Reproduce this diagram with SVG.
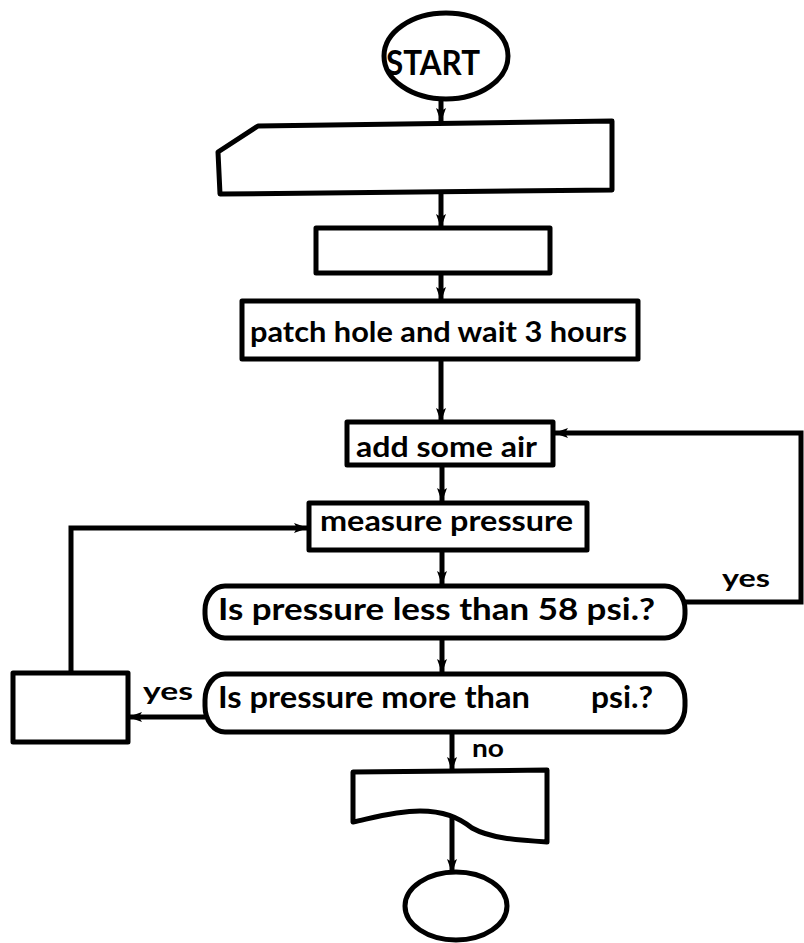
<svg xmlns="http://www.w3.org/2000/svg" width="804" height="943" viewBox="0 0 804 943">
<style>
.s{fill:#fff;stroke:#000;stroke-width:5;stroke-linejoin:round}
.c{fill:none;stroke:#000;stroke-width:5}
.t{font-family:Lato,"Liberation Sans",sans-serif;font-weight:bold;fill:#000}
</style>
<defs>
<marker id="ah" markerUnits="userSpaceOnUse" markerWidth="16" markerHeight="12" refX="14" refY="6" orient="auto">
<path d="M0,1 L14,6 L0,11 L3,6 Z" fill="#000"/>
</marker>
</defs>
<rect width="804" height="943" fill="#fff"/>
<g id="connectors">
<path class="c" d="M441,100 V122" marker-end="url(#ah)"/>
<path class="c" d="M441,192 V228" marker-end="url(#ah)"/>
<path class="c" d="M441,273 V301" marker-end="url(#ah)"/>
<path class="c" d="M441,359 V422" marker-end="url(#ah)"/>
<path class="c" d="M442,465 V502" marker-end="url(#ah)"/>
<path class="c" d="M442,550 V585" marker-end="url(#ah)"/>
<path class="c" d="M442,638 V673" marker-end="url(#ah)"/>
<path class="c" d="M452,732 V771" marker-end="url(#ah)"/>
<path class="c" d="M452,812 V873" marker-end="url(#ah)"/>
<path class="c" d="M685,602 H801 V433 H554" marker-end="url(#ah)"/>
<path class="c" d="M205,717 H128" marker-end="url(#ah)"/>
<path class="c" d="M71,673 V528 H308" marker-end="url(#ah)"/>
<text class="t" x="722" y="587" font-size="24" textLength="48" lengthAdjust="spacingAndGlyphs">yes</text>
<text class="t" x="143" y="700" font-size="24" textLength="50" lengthAdjust="spacingAndGlyphs">yes</text>
<text class="t" x="472" y="757" font-size="24" textLength="32" lengthAdjust="spacingAndGlyphs">no</text>
</g>
<g id="start">
<ellipse class="s" cx="446" cy="56" rx="62" ry="43"/>
<text class="t" x="386" y="75" font-size="34" textLength="94" lengthAdjust="spacingAndGlyphs">START</text>
</g>
<g id="card">
<path class="s" d="M218,152 L258,126 L612,121 L612,190 L220,194 Z"/>
</g>
<g id="box1">
<rect class="s" x="316" y="228" width="234" height="45"/>
</g>
<g id="patch">
<rect class="s" x="242" y="301" width="396" height="58"/>
<text class="t" x="250" y="342" font-size="28" textLength="377" lengthAdjust="spacingAndGlyphs">patch hole and wait 3 hours</text>
</g>
<g id="add">
<rect class="s" x="347" y="422" width="206" height="43"/>
<text class="t" x="356" y="457" font-size="28" textLength="181" lengthAdjust="spacingAndGlyphs">add some air</text>
</g>
<g id="measure">
<rect class="s" x="309" y="503" width="278" height="47"/>
<text class="t" x="320" y="531" font-size="28" textLength="253" lengthAdjust="spacingAndGlyphs">measure pressure</text>
</g>
<g id="decision1">
<rect class="s" x="205" y="586" width="480" height="52" rx="20" ry="24"/>
<text class="t" x="218" y="620" font-size="30" textLength="437" lengthAdjust="spacingAndGlyphs">Is pressure less than 58 psi.?</text>
</g>
<g id="decision2">
<rect class="s" x="205" y="674" width="480" height="58" rx="20" ry="26"/>
<text class="t" x="218" y="708" font-size="30" textLength="312" lengthAdjust="spacingAndGlyphs">Is pressure more than</text>
<text class="t" x="591" y="708" font-size="30" textLength="62" lengthAdjust="spacingAndGlyphs">psi.?</text>
</g>
<g id="leftbox">
<rect class="s" x="13" y="673" width="115" height="69"/>
</g>
<g id="document">
<path class="s" d="M353,772 L547,770 L547,842 C515,840 490,838 472,828 C458,817 443,811 420,811 C395,811 372,818 353,822 Z"/>
</g>
<g id="end">
<ellipse class="s" cx="456" cy="906" rx="51" ry="34"/>
</g>
</svg>
